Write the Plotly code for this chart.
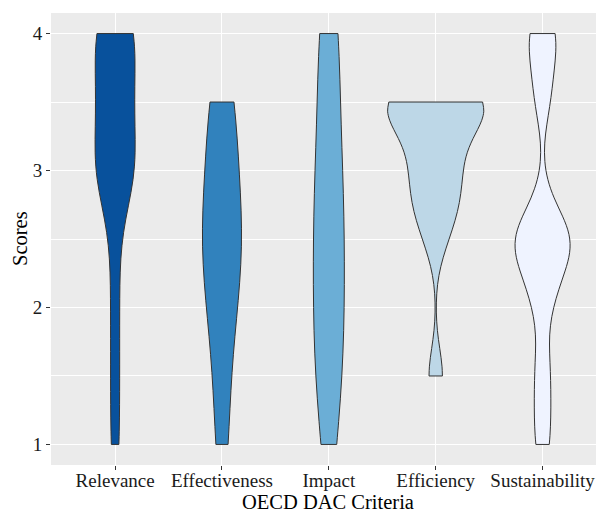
import plotly.graph_objects as go

# ---- data (scores) ----
categories = ["Relevance", "Effectiveness", "Impact", "Efficiency", "Sustainability"]
relevance = [1, 1.5, 2, 2.5, 3, 3, 3, 3, 3, 3.5, 3.5, 3.5, 3.5, 4, 4, 4, 4, 4]
effectiveness = [1, 1.5, 2, 2, 2.5, 2.5, 2.5, 3, 3, 3.5, 3.5]
impact = [1, 1.5, 1.5, 2, 2, 2.5, 2.5, 3, 3, 3.5, 4, 4]
efficiency = [1.5, 2.5, 2.75, 2.75, 3, 3, 3.25, 3.25, 3.5, 3.5, 3.5, 3.5, 3.5, 3.5]
sustainability = [1, 1.3, 1.6, 2, 2.25, 2.25, 2.5, 2.5, 2.5, 2.5, 2.75, 3.5, 3.75, 4, 4]
y_ticks = [1, 2, 3, 4]

series = [relevance, effectiveness, impact, efficiency, sustainability]

# ---- styles ----
fills = ["#08519C", "#3182BD", "#6BAED6", "#BDD7E7", "#EFF3FF"]
bandwidths = [0.3, 0.4, 0.5, 0.2, 0.2]
violin_widths = [0.375, 0.365, 0.29, 0.9, 0.515]
FONT = "Liberation Serif, Times New Roman, serif"

fig = go.Figure()
for cat, vals, col, bw, w in zip(categories, series, fills, bandwidths, violin_widths):
    fig.add_trace(go.Violin(
        x=[cat] * len(vals), y=vals, name=cat,
        fillcolor=col, opacity=1,
        line=dict(color="#333333", width=1),
        points=False, box_visible=False, meanline_visible=False,
        spanmode="hard", bandwidth=bw, scalemode="width", width=w,
        showlegend=False, hoveron="violins",
    ))

fig.update_layout(
    width=596, height=512,
    margin=dict(l=51, r=0, t=13, b=47, autoexpand=False),
    paper_bgcolor="white", plot_bgcolor="#EBEBEB",
    font=dict(family=FONT, size=19, color="#1a1a1a"),
    violinmode="overlay",
    xaxis=dict(
        type="category", categoryorder="array", categoryarray=categories,
        range=[-0.6, 4.5], showgrid=True, gridcolor="white", gridwidth=1.2,
        ticks="outside", ticklen=4, tickcolor="#333333", tickwidth=1,
        ticklabelstandoff=-6,
        tickfont=dict(family=FONT, size=19, color="#1a1a1a"),
        zeroline=False, showline=False, automargin=False,
    ),
    yaxis=dict(
        range=[0.85, 4.15], tickvals=y_ticks, showgrid=True,
        gridcolor="white", gridwidth=1.2,
        minor=dict(tickvals=[1.5, 2.5, 3.5], showgrid=True, gridcolor="white", gridwidth=0.6, ticks=""),
        ticks="outside", ticklen=4, tickcolor="#333333", tickwidth=1,
        tickfont=dict(family=FONT, size=19, color="#1a1a1a"),
        zeroline=False, showline=False, automargin=False,
    ),
    annotations=[
        dict(text="OECD DAC Criteria", xref="paper", yref="paper",
             x=(328 - 51) / 545, y=-37 / 452, xanchor="center", yanchor="middle",
             showarrow=False, font=dict(family=FONT, size=20.5, color="#000000")),
        dict(text="Scores", xref="paper", yref="paper", textangle=-90,
             x=(20 - 51) / 545, y=0.5, xanchor="center", yanchor="middle",
             showarrow=False, font=dict(family=FONT, size=20.5, color="#000000")),
    ],
)

fig.write_html("out.html", config={"displayModeBar": False},
               post_script="document.body.style.margin='0';")
